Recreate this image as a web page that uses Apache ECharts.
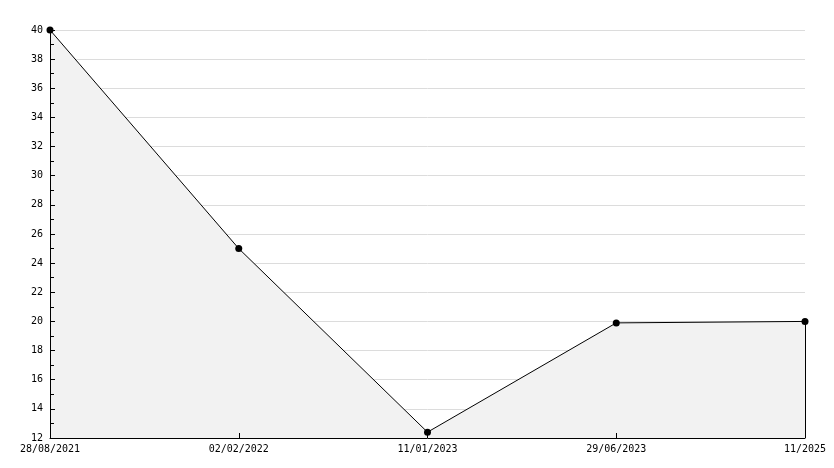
<!DOCTYPE html>
<html>
<head>
<meta charset="utf-8">
<script src="https://cdn.jsdelivr.net/npm/echarts@6/dist/echarts.min.js"></script>
<style>html,body{margin:0;padding:0;background:#fff}#c{width:834px;height:468px}</style>
</head>
<body>
<div id="c"></div>
<script>
var categories = ['28/08/2021', '02/02/2022', '11/01/2023', '29/06/2023', '11/2025'];
var values = [40, 25, 12.4, 19.9, 20];
var yMin = 12, yMax = 40, yStep = 2;

var chart = echarts.init(document.getElementById('c'));
var font = 'DejaVu Sans Mono';
chart.setOption({
  animation: false,
  backgroundColor: '#fff',
  grid: { left: 50, right: 29, top: 30, bottom: 30 },
  xAxis: {
    type: 'category',
    data: categories,
    boundaryGap: false,
    z: 10,
    axisLine: { lineStyle: { color: '#000', width: 1 } },
    axisTick: { show: true, inside: true, length: 5, lineStyle: { color: '#000' } },
    axisLabel: { color: '#000', fontFamily: font, fontSize: 10, margin: 6, showMinLabel: true, showMaxLabel: true },
    splitLine: { show: false }
  },
  yAxis: [{
    type: 'value',
    min: yMin, max: yMax, interval: yStep,
    z: 0,
    axisLine: { show: false },
    axisTick: { show: false },
    axisLabel: { show: false },
    splitLine: { show: true, lineStyle: { color: '#dcdcdc', width: 1 } }
  }, {
    type: 'value',
    position: 'left',
    min: yMin, max: yMax, interval: yStep,
    z: 10,
    axisLine: { show: true, lineStyle: { color: '#000', width: 1 } },
    axisTick: { show: true, inside: true, length: 5, lineStyle: { color: '#000' } },
    minorTick: { show: true, splitNumber: 2, length: 4, lineStyle: { color: '#000' } },
    axisLabel: { color: '#000', fontFamily: font, fontSize: 10, margin: 7 },
    splitLine: { show: false }
  }],
  series: [{
    type: 'line',
    data: values,
    yAxisIndex: 0,
    symbol: 'circle',
    symbolSize: 7,
    z: 5,
    itemStyle: { color: '#000' },
    lineStyle: { color: '#000', width: 1 },
    areaStyle: { color: '#f2f2f2', opacity: 1 },
    markLine: {
      silent: true,
      symbol: ['none', 'none'],
      label: { show: false },
      lineStyle: { color: '#000', width: 1, type: 'solid' },
      data: [[{ coord: [categories.length - 1, yMin] }, { coord: [categories.length - 1, values[values.length - 1]] }]]
    }
  }]
});
</script>
</body>
</html>
